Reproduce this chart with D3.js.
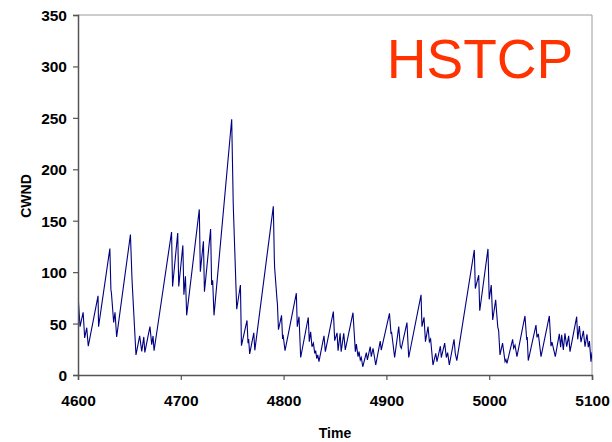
<!DOCTYPE html>
<html><head><meta charset="utf-8">
<script src="https://cdn.jsdelivr.net/npm/d3@7"></script>
<style>
html,body{margin:0;padding:0;background:#fff;}
svg{display:block;}
text{font-family:"Liberation Sans",Arial,sans-serif;}
</style></head>
<body>
<script>
// ---- data ----
const times = [4600,4602,4605,4606.5,4608.5,4610,4619.5,4620,4631,4632,4632.5,4634.7,4636,4637.6,4651,4652.5,4653,4656.4,4660,4662,4664,4665,4670,4671.7,4673,4674,
4691,4692,4697,4698,4702,4703,4704.5,4705.7,4718,4719,4722,4723,4729,4730,4731,4732.3,4749.5,4751,4751.2,4754.4,4758,4759,4764.4,4765.4,4766,4767,
4771,4772,4790,4791,4791.3,4793.6,4794,4795,4798,4799,4799.5,4801.4,4812.4,4813.3,4815,4816.6,4824,4825,4826.3,4827.6,4829,4830.3,4831.2,4832.2,4833.2,4834.4,4839.3,4840.6,4848.4,
4849.7,4852,4853,4855,4856,4858.5,4860,4867.5,4869.8,4870.8,4872.4,4873.4,4874.6,4875.6,4877,4880.5,4881.5,4884.3,4885.3,4887,4889.6,4894,4895,4896.5,4903,4904.5,4905,4908,4912,4913.5,4914.5,4920,4921.7,
4933.7,4934.6,4936.6,4938,4940.5,4941.8,4943,4945.3,4948,4949.2,4952.5,4953.4,4956.7,4958.3,4959.6,4961.2,4965.8,4967,4968.5,4985.5,4986.5,4989.8,4990.8,4998.8,5000,5002,5003.4,5006.3,5008.3,5009.2,5010.5,
5013,5015.4,5016.3,5017.3,5022.8,5023.8,5025.1,5027,5034.8,5036.5,5037,5038,5045.5,5046.5,5047.8,5050.4,5058.5,5060.1,5061.1,5064.3,5068.2,5069.5,5070.5,5072.1,5073.7,5075.4,5077.3,5078.6,5085.1,5086.1,5087.7,5089.3,5091.6,5093.2,5095.1,5096.4,5097.5,5099,5100];
const cwnd = [78,47,61,36,46,28,77,47,123,83,80,51,61,37,136.5,94,84,19.5,38,23,37,22,47,29.5,38,23.6,
139,86,138,86,126,78,96,58,161,100.5,130,81,142,87.5,92,58,248.7,167,160,64,87.5,28.5,53,31,35,20.5,
41,24,164,112.5,104,73,69,44,58,35,39,23.7,79.5,47,56.7,17,56,32.4,42,27.5,31,21,23.7,16,19.5,13,38,22.7,61.6,
33.4,41,23.6,40.5,22.7,40.5,24.3,60.6,22.7,30,17.8,22.7,14.6,17,8,21.7,14.6,27.5,17.8,26,9.7,33,24.3,31,60,40,42,17,47,28,26,51,17,
78,47,56,32.4,47,32.4,35,9.7,21,13,28,17,31,17,21.7,9.7,34.7,21,14,121.6,84,97,62.5,122.6,73.6,87.5,53.5,73,47,43,19.5,
31,13,15,11.4,34.7,26,29,17.8,57.4,34,37,14,48.6,36.6,40,17.8,57.4,28,32,17.8,40,27,39,24.3,40.6,27.5,38,22.7,56.7,34.7,47.6,32,43,27.5,39.6,27,33,13,22];
const xTicks = [4600,4700,4800,4900,5000,5100];
const yTicks = [0,50,100,150,200,250,300,350];
const xLabel = "Time";
const yLabel = "CWND";
const title = "HSTCP";

// ---- layout ----
const W = 612, H = 442;
const L = 78, R = 592, T = 15, B = 375;

const svg = d3.select("body").append("svg").attr("width", W).attr("height", H);

const x = d3.scaleLinear().domain([4600, 5100]).range([L, R]);
const y = d3.scaleLinear().domain([0, 350]).range([B, T]);

// plot border (top & right)
svg.append("path")
  .attr("d", `M${L},${T}H${R}V${B}`)
  .attr("fill", "none").attr("stroke", "#9a9a9a").attr("stroke-width", 1);

// line
const pts = times.map((t, i) => [t, cwnd[i]]);
svg.append("defs").append("clipPath").attr("id", "clip")
  .append("rect").attr("x", L).attr("y", T).attr("width", R - L).attr("height", B - T);
svg.append("path")
  .datum(pts)
  .attr("clip-path", "url(#clip)")
  .attr("fill", "none")
  .attr("stroke", "#000080")
  .attr("stroke-width", 1.1)
  .attr("stroke-linejoin", "miter")
  .attr("d", d3.line().x(d => x(d[0])).y(d => y(d[1])));

// axes
const xAxis = svg.append("g").attr("transform", `translate(0,${B})`)
  .call(d3.axisBottom(x).tickValues(xTicks).tickFormat(d3.format("d")).tickSize(5).tickPadding(15));
const yAxis = svg.append("g").attr("transform", `translate(${L},0)`)
  .call(d3.axisLeft(y).tickValues(yTicks).tickSize(5).tickPadding(6));
[xAxis, yAxis].forEach(g => {
  g.select(".domain").attr("stroke", "#555").attr("stroke-width", 1.5);
  g.selectAll(".tick line").attr("stroke", "#555").attr("stroke-width", 1.2);
  g.selectAll(".tick text").attr("fill", "#000").style("font-size", "15.5px").style("font-weight", "bold")
    .style("font-family", "'Liberation Sans', Arial, sans-serif");
});
yAxis.selectAll(".tick text").attr("dy", "0.35em");

// axis titles
svg.append("text").attr("x", 335).attr("y", 438).attr("text-anchor", "middle")
  .style("font-size", "14px").style("font-weight", "bold").text(xLabel);
svg.append("text").attr("transform", "translate(31,196) rotate(-90)").attr("text-anchor", "middle")
  .style("font-size", "14px").style("font-weight", "bold").text(yLabel);

// title
svg.append("text").attr("x", 480).attr("y", 78).attr("text-anchor", "middle")
  .attr("fill", "#FF3300").style("font-size", "55px").text(title);
</script>
</body></html>
